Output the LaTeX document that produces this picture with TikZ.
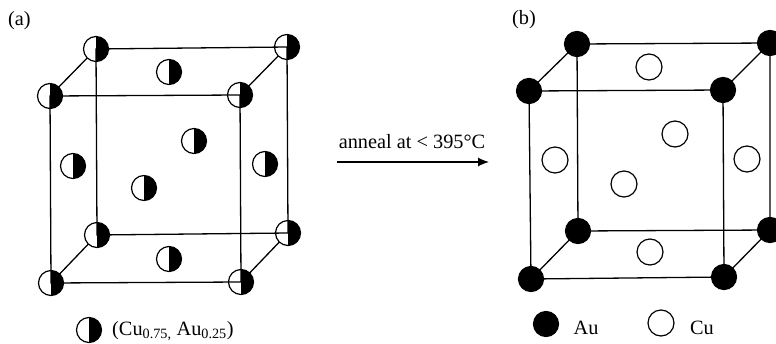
\documentclass[tikz,border=0pt]{standalone}
\usepackage{fontspec}
\setmainfont{Liberation Serif}
\usetikzlibrary{arrows.meta,positioning}

\begin{document}
\begin{tikzpicture}[
    x=1pt, y=-1pt,
    atom/.style={draw, circle, minimum size=25pt, inner sep=0pt, outer sep=0pt, line width=1.2pt},
    halfatom/.style={atom, fill=white, path picture={
        \fill[black] (path picture bounding box.north) rectangle (path picture bounding box.south east);}},
    auatom/.style={atom, fill=black},
    cuatom/.style={atom, fill=white, minimum size=26pt},
    bond/.style={line width=1.3pt},
    lbl/.style={font=\fontsize{20.3}{23}\selectfont, inner sep=0pt},
    arr/.style={-{Latex[length=11pt, width=9pt]}, line width=1.2pt}
  ]
    \useasboundingbox (0,0) rectangle (776,343);

    % Cube (a): back diagonals
    \coordinate (abtl) at (96,49);
    \coordinate (abtr) at (287,47);
    \coordinate (aftl) at (50,96);
    \coordinate (aftr) at (240,95);
    \coordinate (abbl) at (97,235);
    \coordinate (abbr) at (288,233);
    \coordinate (afbl) at (51,283);
    \coordinate (afbr) at (241,282);
    \draw[bond] (abtl) -- (aftl);
    \draw[bond] (abtr) -- (aftr);
    \draw[bond] (abbl) -- (afbl);
    \draw[bond] (abbr) -- (afbr);

    % Cube (a): corner atoms
    \foreach \n in {abtl,abtr,aftl,aftr,abbl,abbr,afbl,afbr}
      \node[halfatom] (\n n) at (\n) {};

    % Cube (a): face atoms
    \node[halfatom] (atop)   at (169,72)  {};
    \node[halfatom] (abot)   at (169,259) {};
    \node[halfatom] (aleft)  at (73,166)  {};
    \node[halfatom] (aright) at (265,164) {};
    \node[halfatom] (aback)  at (194,141) {};
    \node[halfatom] (afront) at (144,188) {};

    % Cube (a): edges on top of the atoms
    \draw[bond] (abtln.center) -- (abtrn.center) -- (abbrn.center) -- (abbln.center) -- cycle;
    \draw[bond] (aftln.center) -- (aftrn.center) -- (afbrn.center) -- (afbln.center) -- cycle;

    % Cube (b): edges
    \coordinate (bbtl) at (577,44);
    \coordinate (bbtr) at (770,43);
    \coordinate (bftl) at (529,91);
    \coordinate (bftr) at (723,90);
    \coordinate (bbbl) at (578,231);
    \coordinate (bbbr) at (770,230);
    \coordinate (bfbl) at (531,279);
    \coordinate (bfbr) at (724,277);
    \draw[bond] (bbtl) -- (bbtr) -- (bbbr) -- (bbbl) -- cycle;
    \draw[bond] (bftl) -- (bftr) -- (bfbr) -- (bfbl) -- cycle;
    \draw[bond] (bbtl) -- (bftl);
    \draw[bond] (bbtr) -- (bftr);
    \draw[bond] (bbbl) -- (bfbl);
    \draw[bond] (bbbr) -- (bfbr);

    % Cube (b): corner atoms
    \foreach \n in {bbtl,bbtr,bftl,bftr,bbbl,bbbr,bfbl,bfbr}
      \node[auatom] (\n n) at (\n) {};

    % Cube (b): face atoms
    \node[cuatom] (btop)   at (649,67)  {};
    \node[cuatom] (bbot)   at (650,252) {};
    \node[cuatom] (bleft)  at (555,160) {};
    \node[cuatom] (bright) at (747,159) {};
    \node[cuatom] (bback)  at (675,134) {};
    \node[cuatom] (bfront) at (624,184) {};

    % Panel labels
    \node[lbl, anchor=west] (alabel) at (8,21)  {(a)};
    \node[lbl, anchor=west] (blabel) at (512,20) {(b)};

    % Anneal arrow
    \coordinate (arrstart) at (337,162);
    \coordinate (arrend)   at (489,162);
    \draw[arr] (arrstart) -- (arrend);
    \node[lbl] (anneal) at (412,142) {anneal at < 395°C};

    % Legends
    \node[halfatom] (keyhalf) at (89,330) {};
    \node[lbl, anchor=west] (keyhalftext) at (112,331) {(Cu\textsubscript{0.75,} Au\textsubscript{0.25})};
    \node[auatom] (keyau) at (546,324) {};
    \node[lbl] (keyautext) at (586,328) {Au};
    \node[cuatom] (keycu) at (661,323) {};
    \node[lbl] (keycutext) at (702,328) {Cu};
  \end{tikzpicture}
\end{document}
